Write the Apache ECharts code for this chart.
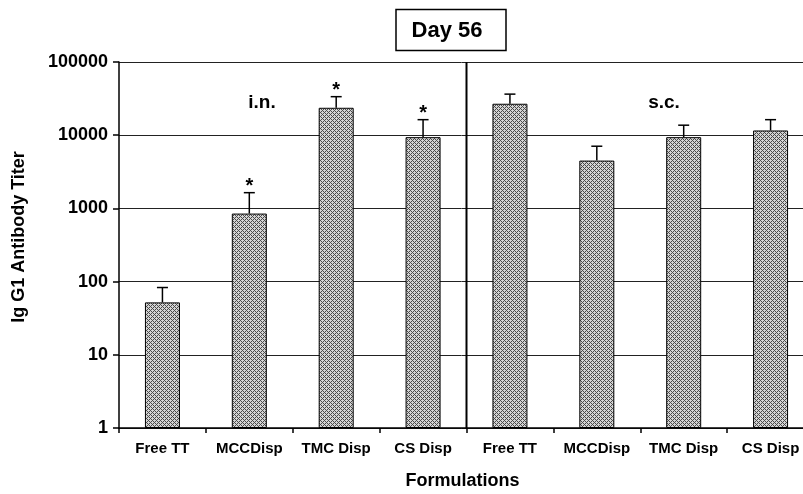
<!DOCTYPE html>
<html><head><meta charset="utf-8">
<script src="https://cdn.jsdelivr.net/npm/echarts@6/dist/echarts.min.js"></script>
<style>html,body{margin:0;padding:0;background:#fff}#c{width:803px;height:494px}</style>
</head><body><div id="c"></div>
<script>
const categories = ['Free TT','MCCDisp','TMC Disp','CS Disp','Free TT','MCCDisp','TMC Disp','CS Disp'];
const titerMean  = [52, 850, 23700, 9400, 26900, 4500, 9400, 11600];
const titerUpper = [83, 1640, 33600, 16300, 36400, 7070, 13700, 16300];
const significant = [0, 1, 1, 1, 0, 0, 0, 0];
const yTicks = [1, 10, 100, 1000, 10000, 100000];
const groupLabels = ['i.n.', 's.c.'];
const dividerAt = 4;

function makePattern(){
  const c = document.createElement('canvas'); c.width = 4; c.height = 4;
  const g = c.getContext('2d');
  g.fillStyle = '#d4d4d4'; g.fillRect(0,0,4,4);
  g.fillStyle = '#4a4a4a';
  [[0,0],[1,1],[2,2],[3,3],[1,3],[3,1]].forEach(p=>g.fillRect(p[0],p[1],1,1));
  return c;
}
const FONT = '"Liberation Sans", Arial, sans-serif';
const chart = echarts.init(document.getElementById('c'));
const errData = categories.map((c,i)=>[i, titerMean[i], titerUpper[i], significant[i]]);
chart.setOption({
  animation: false,
  grid: {left: 119, top: 62, right: -11, bottom: 66, containLabel: false, outerBoundsMode: 'none'},
  xAxis: [{
    type: 'category', data: categories,
    axisLine: {lineStyle: {color: '#000', width: 1.5}},
    axisTick: {show: true, interval: 0, length: 5, lineStyle: {color: '#000', width: 1.5}},
    axisLabel: {interval: 0, hideOverlap: false, color: '#000', fontWeight: 'bold', fontSize: 15, fontFamily: FONT, margin: 13},
    name: 'Formulations', nameLocation: 'middle', nameGap: 44,
    nameTextStyle: {color: '#000', fontWeight: 'bold', fontSize: 18, fontFamily: FONT, padding: [0, 8, 0, 0]}
  }, {
    type: 'value', min: 0, max: categories.length, show: false
  }],
  yAxis: {
    type: 'log', logBase: 10, min: yTicks[0], max: yTicks[yTicks.length-1],
    axisLine: {show: true, lineStyle: {color: '#000', width: 1.5}},
    axisTick: {show: true, length: 6, lineStyle: {color: '#000', width: 1.5}},
    axisLabel: {color: '#000', fontWeight: 'bold', fontSize: 18, fontFamily: FONT, margin: 11,
      formatter: v => String(v)},
    splitLine: {show: true, lineStyle: {color: '#222', width: 1}},
    name: 'Ig G1 Antibody Titer', nameLocation: 'middle', nameGap: 91, nameRotate: 90,
    nameTextStyle: {color: '#000', fontWeight: 'bold', fontSize: 18, fontFamily: FONT, padding: [0, 0, 0, 16]}
  },
  series: [{
    type: 'bar', data: titerMean, barWidth: 35,
    itemStyle: {color: {image: makePattern(), repeat: 'repeat'}, borderColor: '#000', borderWidth: 1}
  }, {
    type: 'custom', data: errData, encode: {x: 0, y: [1, 2]}, z: 5,
    renderItem: function(params, api){
      const i = api.value(0);
      const base = api.coord([i, api.value(1)]);
      const top = api.coord([i, api.value(2)]);
      const cap = 5.5;
      const ch = [
        {type: 'line', shape: {x1: base[0], y1: base[1], x2: top[0], y2: top[1]}, style: {stroke: '#000', lineWidth: 1.5}},
        {type: 'line', shape: {x1: top[0]-cap, y1: top[1], x2: top[0]+cap, y2: top[1]}, style: {stroke: '#000', lineWidth: 1.5}}
      ];
      if (api.value(3)) ch.push({type: 'text', x: top[0], y: top[1]-6,
        style: {text: '*', align: 'center', verticalAlign: 'middle', font: 'bold 20px ' + FONT, fill: '#000'}});
      return {type: 'group', children: ch};
    }
  }, {
    type: 'line', xAxisIndex: 1, symbol: 'none', z: 6,
    data: [[dividerAt, yTicks[0]], [dividerAt, yTicks[yTicks.length-1]]],
    lineStyle: {color: '#000', width: 2}
  }],
  graphic: [
    {type: 'rect', shape: {x: 396, y: 9.5, width: 110, height: 41}, style: {fill: '#fff', stroke: '#000', lineWidth: 1.5}},
    {type: 'text', x: 447, y: 31, style: {text: 'Day 56', align: 'center', verticalAlign: 'middle', font: 'bold 22px ' + FONT, fill: '#000'}},
    {type: 'text', x: 262, y: 103, style: {text: groupLabels[0], align: 'center', verticalAlign: 'middle', font: 'bold 19px ' + FONT, fill: '#000'}},
    {type: 'text', x: 664, y: 103, style: {text: groupLabels[1], align: 'center', verticalAlign: 'middle', font: 'bold 19px ' + FONT, fill: '#000'}}
  ]
});
</script></body></html>
